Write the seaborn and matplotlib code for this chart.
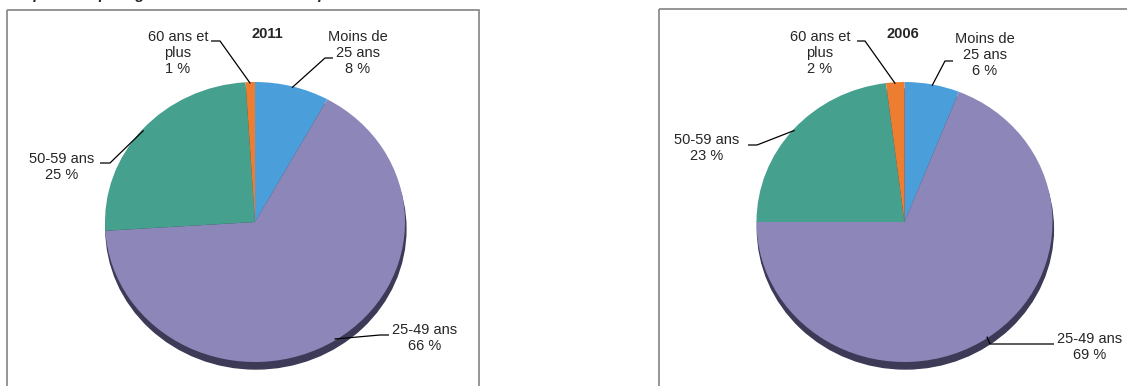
import numpy as np
import seaborn as sns
import matplotlib.pyplot as plt
from matplotlib.patches import Ellipse, Rectangle

# données
groupes = ["Moins de\n25 ans", "25-49 ans", "50-59 ans", "60 ans et\nplus"]
parts_2011 = [8, 66, 25, 1]
parts_2006 = [6, 69, 23, 2]
couleurs = ["#4a9fda", "#8d86b9", "#45a08d", "#ed7d31"]

titre = "Répartition par âge des demandeurs d'emploi en 2011 et en 2006"

# mise en page (pixels de l'image, y vers le bas)
W, H = 1127, 386
# (texte x, texte y, coude, bout du trait)
layout_2011 = [((358, 53), (325, 58), (333, 58)),
               ((425, 338), (380, 335), (389, 335)),
               ((62, 167), (110, 163), (100, 163)),
               ((178, 53), (220, 41), (211, 41))]
layout_2006 = [((985, 55), (945, 61), (953, 61)),
               ((1090, 347), (990, 344), (1054, 344)),
               ((707, 148), (757, 145), (748, 145)),
               ((820, 53), (865, 41), (857, 41))]

sns.set_theme(style="white")
plt.rcParams['font.family'] = ['Liberation Sans', 'DejaVu Sans']

fig = plt.figure(figsize=(W / 100, H / 100), dpi=100)
over = fig.add_axes([0, 0, 1, 1], zorder=5)
over.set_xlim(0, W)
over.set_ylim(H, 0)
over.axis('off')
over.patch.set_alpha(0)

# cadres
over.add_patch(Rectangle((7, 10), 472, 400, fill=False, edgecolor='#8c8c8c', lw=1.3, clip_on=False))
over.add_patch(Rectangle((659, 9), 520, 400, fill=False, edgecolor='#8c8c8c', lw=1.3, clip_on=False))

# titre coupé en haut
over.text(14, -0.5, titre, fontsize=11, fontweight='bold', fontstyle='italic',
          va='baseline', ha='left', clip_on=False)


def draw_pie(annee, parts, cx, cy, rx, ry, year_pos, layout):
    ax = fig.add_axes([(cx - rx) / W, (H - cy - ry) / H, 2 * rx / W, 2 * ry / H], zorder=2)
    # ombre du camembert 3D
    ax.add_patch(Ellipse((0.006, -0.05), 2, 2, color='#3d3a57', clip_on=False, zorder=0))
    wedges, _ = ax.pie(parts, colors=couleurs, startangle=90, counterclock=False, radius=1,
                       wedgeprops=dict(linewidth=0, clip_on=False))
    ax.set_aspect('auto')
    ax.set_xlim(-1, 1)
    ax.set_ylim(-1, 1)
    ax.axis('off')

    over.text(year_pos[0], year_pos[1], annee, fontsize=10.5, fontweight='bold',
              ha='center', va='center')

    for w, g, p, (txt, coude, bout) in zip(wedges, groupes, parts, layout):
        theta = np.deg2rad((w.theta1 + w.theta2) / 2)
        pt = (0.99 * np.cos(theta), 0.99 * np.sin(theta))
        ex, ey = over.transData.inverted().transform(ax.transData.transform(pt))
        over.plot([ex, coude[0], bout[0]], [ey, coude[1], bout[1]], color='black', lw=0.9,
                  solid_capstyle='butt')
        over.text(txt[0], txt[1], f"{g}\n{p} %", fontsize=10.5, ha='center', va='center',
                  multialignment='center', linespacing=1.22)


draw_pie("2011", parts_2011, 255, 222, 150, 140, (267, 34), layout_2011)
draw_pie("2006", parts_2006, 904.5, 222, 148, 140, (903, 34), layout_2006)

fig.savefig('out.png', dpi=100)
